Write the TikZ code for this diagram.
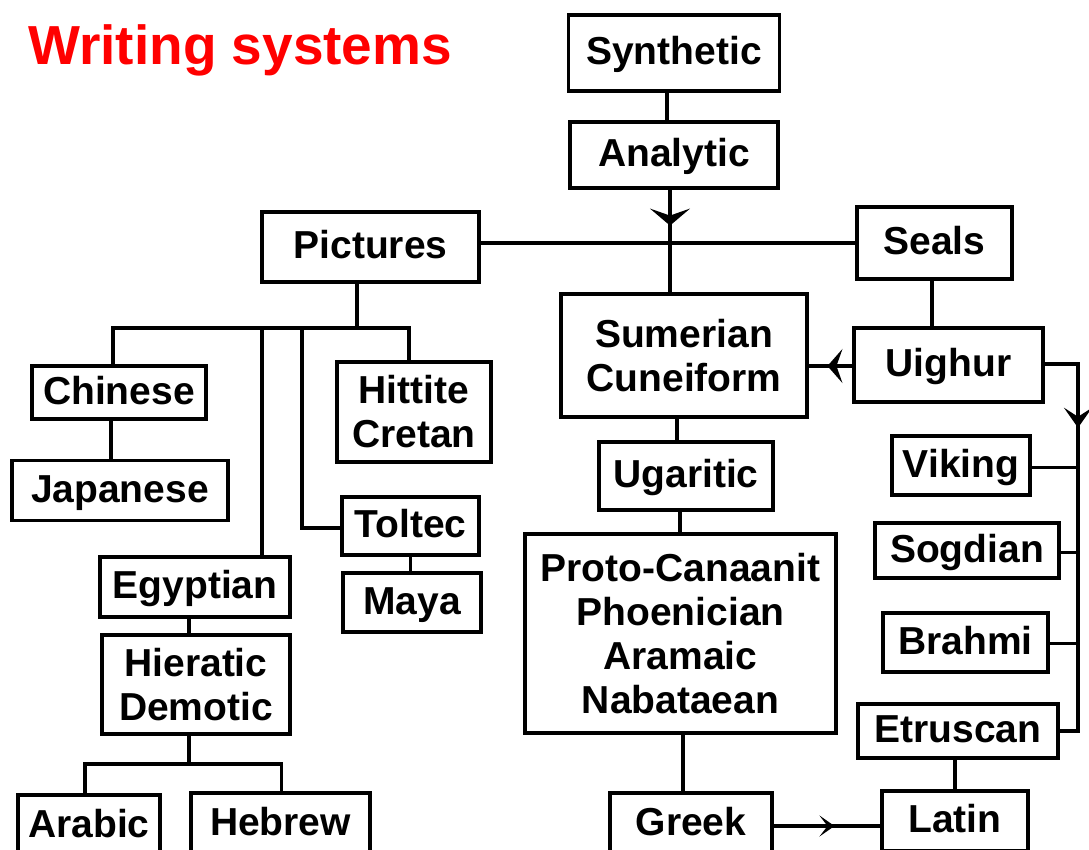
\documentclass[tikz,border=0pt]{standalone}
\usepackage{fontspec}
\setmainfont{Liberation Sans}
\usetikzlibrary{arrows.meta,decorations.markings,calc}
\begin{document}
\begin{tikzpicture}[x=1pt,y=-1pt,
  bx/.style={draw, line width=3.2pt, inner sep=0pt, font=\fontsize{39}{44}\selectfont\bfseries, text height=28pt, text depth=4.5pt},
  bxm/.style={draw, line width=3.2pt, inner sep=0pt, align=center, font=\fontsize{39}{44}\selectfont\bfseries},
  wh/.style 2 args={minimum width=#1, minimum height=#2},
  ln/.style={line width=3.2pt},
  arrowat/.style n args={4}{postaction={decorate}, decoration={markings, mark=at position #1 with {\arrow{Stealth[length=#2, width=#3, inset=#4]}}}},
]
\useasboundingbox (0,0) rectangle (1089,849);
\fill[white] (0,0) rectangle (1089,849);
\clip (0,0) rectangle (1089,849);

\node[anchor=base west, text=red, font=\fontsize{55}{60}\selectfont\bfseries, inner sep=0pt] (title) at (28,64) {Writing systems};

% nodes
\node[bx, wh={211}{76}] (syn) at (674,53) {Synthetic};
\node[bx, wh={208}{66}] (ana) at (674,155) {Analytic};
\node[bx, wh={217}{70}] (pic) at (370.5,247) {Pictures};
\node[bx, wh={155}{72}] (seals) at (934.5,243) {Seals};
\node[bxm, wh={246}{123}] (sum) at (684,355.5) {Sumerian\\Cuneiform};
\node[bx, wh={189}{74}] (uig) at (948.5,365) {Uighur};
\node[bx, wh={174}{53}] (chi) at (119,392.5) {Chinese};
\node[bx, wh={216}{60}] (jap) at (120,490.5) {Japanese};
\node[bxm, wh={154}{100}] (hit) at (414,412) {Hittite\\Cretan};
\node[bx, wh={137}{58}] (tol) at (410.5,526) {Toltec};
\node[bx, wh={138}{59}] (maya) at (412,602.5) {Maya};
\node[bx, wh={190}{60}] (egy) at (195,587) {Egyptian};
\node[bxm, wh={188}{99}] (hier) at (196,684.5) {Hieratic\\Demotic};
\node[bx, wh={142}{61}] (arab) at (89,825.5) {Arabic};
\node[bx, wh={179}{62}] (hebr) at (280.5,824) {Hebrew};
\node[bx, wh={174}{68}] (ugar) at (686,476) {Ugaritic};
\node[bxm, wh={311}{199}] (proto) at (680.5,633.5) {Proto-Canaanit\\Phoenician\\Aramaic\\Nabataean};
\node[bx, wh={162}{62}] (greek) at (691,824) {Greek};
\node[bx, wh={138}{59}] (viking) at (961,465.5) {Viking};
\node[bx, wh={184}{55}] (sogd) at (967,550.5) {Sogdian};
\node[bx, wh={165}{59}] (brahmi) at (965.5,642.5) {Brahmi};
\node[bx, wh={200}{54}] (etr) at (958,731) {Etruscan};
\node[bx, wh={146}{60}] (latin) at (955,821) {Latin};

% junction coordinates
\coordinate (pj) at (357,328);
\coordinate (tj) at (302,328);
\coordinate (hj) at (189,764);
\coordinate (sp) at (1078,364);

% connectors
\draw[ln] ([xshift=-7pt]syn.south) -- ([xshift=-7pt]syn.south |- ana.north);
\draw[ln, arrowat={0.35}{17pt}{40pt}{7pt}] ([xshift=-4pt]ana.south) -- ([xshift=-4pt]ana.south |- sum.north);
\draw[ln] (pic.east |- seals.west) -- (seals.west);
\draw[ln] (pic.south -| pj) -- (pj);
\draw[ln] ([xshift=-6pt]chi.north) |- ([xshift=-5pt]hit.north |- pj) -- ([xshift=-5pt]hit.north);
\draw[ln] ([xshift=67pt]egy.north) -- ([xshift=67pt]egy.north |- pj);
\draw[ln] ([yshift=-2pt]tol.west) -| (tj);
\draw[ln] (tol.south) -- (tol.south |- maya.north);
\draw[ln] ([xshift=-8pt]chi.south) -- ([xshift=-8pt]chi.south |- jap.north);
\draw[ln] ([xshift=-6pt]egy.south) -- ([xshift=-6pt]egy.south |- hier.north);
\draw[ln] ([xshift=-7pt]hier.south) -- (hj);
\draw[ln] ([xshift=-4pt]arab.north) |- (hj) -| ([xshift=1pt]hebr.north);
\draw[ln] ([xshift=-7pt]sum.south) -- ([xshift=-7pt]sum.south |- ugar.north);
\draw[ln] ([xshift=-6pt]ugar.south) -- ([xshift=-6pt]ugar.south |- proto.north);
\draw[ln] ([xshift=2.5pt]proto.south) -- ([xshift=2.5pt]proto.south |- greek.north);
\draw[ln, arrowat={0.57}{15pt}{21pt}{8pt}] ([yshift=-2pt]greek.east) -- ([yshift=-2pt]greek.east -| latin.west);
\draw[ln] ([xshift=-3pt]etr.south) -- ([xshift=-3pt]etr.south |- latin.north);
\draw[ln] ([xshift=-2.5pt]seals.south) -- ([xshift=-2.5pt]seals.south |- uig.north);
\draw[ln, arrowat={0.57}{15pt}{34pt}{6pt}] ([yshift=-1pt]uig.west) -- ([yshift=-1pt]uig.west -| sum.east);
\draw[ln, arrowat={0.232}{20pt}{28pt}{9pt}] (uig.east |- sp) -- (sp) -- (sp |- etr.east) -- (etr.east);
\draw[ln] ([yshift=-2pt]viking.east) -- ([yshift=-2pt]viking.east -| sp);
\draw[ln] ([yshift=-2pt]sogd.east) -- ([yshift=-2pt]sogd.east -| sp);
\draw[ln] ([yshift=-1pt]brahmi.east) -- ([yshift=-1pt]brahmi.east -| sp);
\end{tikzpicture}
\end{document}
